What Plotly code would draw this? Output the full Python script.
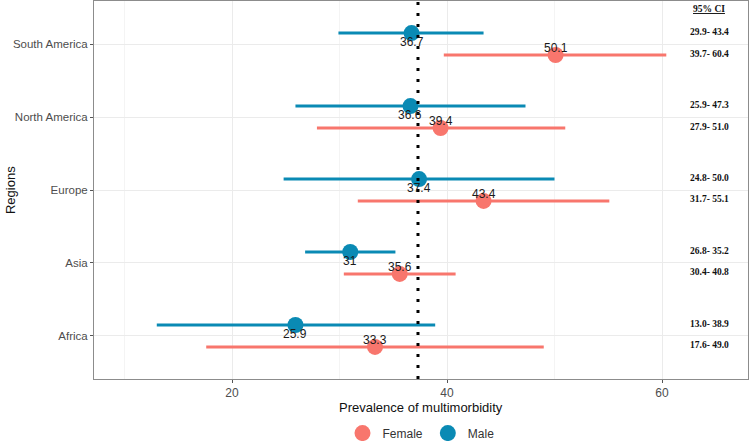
import plotly.graph_objects as go

regions = ["Africa", "Asia", "Europe", "North America", "South America"]
male = [25.9, 31.0, 37.4, 36.6, 36.7]
male_lo = [13.0, 26.8, 24.8, 25.9, 29.9]
male_hi = [38.9, 35.2, 50.0, 47.3, 43.4]
female = [33.3, 35.6, 43.4, 39.4, 50.1]
female_lo = [17.6, 30.4, 31.7, 27.9, 39.7]
female_hi = [49.0, 40.8, 55.1, 51.0, 60.4]
overall = 37.3

FEM = "#F8766D"
MAL = "#0A8AB4"
off = 0.15
pos = list(range(1, len(regions) + 1))
ym = [p + off for p in pos]
yf = [p - off for p in pos]

fig = go.Figure()
ann = []
lblfont = dict(family="Liberation Sans, Arial", size=12, color="#1a1a1a")

for name, vals, lo, hi, ys, col, shift in [
    ("Female", female, female_lo, female_hi, yf, FEM, 7),
    ("Male", male, male_lo, male_hi, ym, MAL, -9),
]:
    fig.add_trace(go.Scatter(
        x=vals, y=ys, mode="markers", name=name,
        marker=dict(color=col, size=16),
        error_x=dict(type="data", symmetric=False,
                     array=[h - v for h, v in zip(hi, vals)],
                     arrayminus=[v - l for v, l in zip(vals, lo)],
                     color=col, thickness=3, width=0),
    ))
    for v, y in zip(vals, ys):
        ann.append(dict(text=f"{v:g}", x=v, y=y, xref="x", yref="y", yshift=shift,
                        xanchor="center", yanchor="middle", showarrow=False, font=lblfont))

fig.add_vline(x=overall, line=dict(color="black", width=3, dash="3px,8px"), layer="above")

cix = 0.941
cifont = dict(family="Liberation Serif, serif", size=9.5, color="#111")
ann.append(dict(text="<u><b>95% CI</b></u>", x=cix, y=1.0, yref="paper", xref="paper",
                xanchor="center", yanchor="top", showarrow=False, yshift=-1, font=cifont))
for ys, lo, hi in [(ym, male_lo, male_hi), (yf, female_lo, female_hi)]:
    for y, l, h in zip(ys, lo, hi):
        ann.append(dict(text=f"<b>{l:.1f}- {h:.1f}</b>", x=cix, xref="paper", y=y + 0.02, yref="y",
                        xanchor="center", showarrow=False, font=cifont))

titlefont = dict(family="Liberation Sans, Arial", size=13, color="#111")
ann.append(dict(text="Prevalence of multimorbidity", x=0.5, y=-0.075, xref="paper", yref="paper",
                xanchor="center", yanchor="middle", showarrow=False, font=titlefont))
ann.append(dict(text="Regions", x=-0.1284, y=0.5, xref="paper", yref="paper", textangle=-90,
                xanchor="center", yanchor="middle", showarrow=False, font=titlefont))

fig.update_layout(
    width=750, height=441,
    margin=dict(l=94, r=2, t=1, b=62, autoexpand=False),
    plot_bgcolor="white", paper_bgcolor="white",
    font=dict(family="Liberation Sans, Arial", color="#4D4D4D"),
    annotations=ann,
    legend=dict(orientation="h", x=0.5, xanchor="center", y=-0.143, yanchor="middle",
                font=dict(size=12, color="#333"), itemwidth=30, tracegroupgap=0),
    xaxis=dict(range=[7.16, 68.0], tick0=0, dtick=20, showgrid=True, gridcolor="#EBEBEB",
               minor=dict(dtick=10, showgrid=True, gridcolor="#F4F4F4"),
               zeroline=False, showline=True, mirror=True, linecolor="#8C8C8C",
               ticks="outside", ticklen=3, tickcolor="#555", automargin=False,
               tickfont=dict(size=12, color="#4D4D4D")),
    yaxis=dict(range=[0.41, 5.59], tickvals=pos, ticktext=regions,
               showgrid=True, gridcolor="#EBEBEB", zeroline=False,
               showline=True, mirror=True, linecolor="#8C8C8C",
               ticks="outside", ticklen=3, tickcolor="#555", automargin=False,
               tickfont=dict(size=11.5, color="#4D4D4D")),
)

fig.write_html("out.html", config={"displayModeBar": False},
               post_script="document.body.style.margin='0';")
